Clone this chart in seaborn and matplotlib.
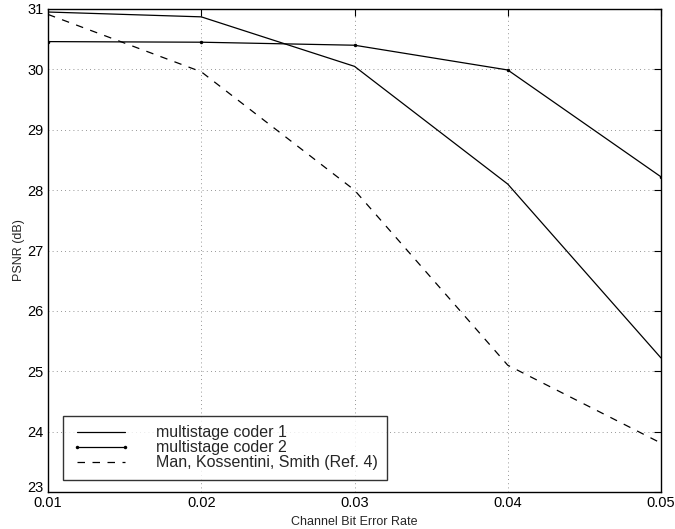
import matplotlib
matplotlib.use("Agg")
import matplotlib.pyplot as plt
import matplotlib.transforms as mtransforms
import seaborn as sns
import pandas as pd

ber = [0.01, 0.02, 0.03, 0.04, 0.05]
coder1 = [30.95, 30.87, 30.05, 28.10, 25.22]
coder2 = [30.46, 30.45, 30.40, 29.99, 28.22]
man = [30.91, 29.96, 28.00, 25.10, 23.81]
labels = ["multistage coder 1", "multistage coder 2", "Man, Kossentini, Smith (Ref. 4)"]
xticks = [0.01, 0.02, 0.03, 0.04, 0.05]
yticks = [23, 24, 25, 26, 27, 28, 29, 30, 31]

sns.set_style("white")
plt.rcParams['font.family'] = ['Liberation Sans', 'DejaVu Sans']
plt.rcParams['font.size'] = 10

fig = plt.figure(figsize=(6.75, 5.29), dpi=100)
ax = fig.add_axes([48/675, 1-492/529, (661-48)/675, (492-9)/529])

sns.lineplot(x=ber, y=coder1, ax=ax, color="black", lw=0.9, label=labels[0])
sns.lineplot(x=ber, y=coder2, ax=ax, color="black", lw=0.9, marker="o", markersize=2.5,
             markeredgewidth=0, label=labels[1])
sns.lineplot(x=ber, y=man, ax=ax, color="black", lw=0.9, linestyle=(0, (6, 6)), label=labels[2])

ax.set_xlim(0.01, 0.05)
ax.set_ylim(23, 31)
ax.set_xticks(xticks)
ax.set_xticklabels([f"{v:.2f}" for v in xticks])
ax.set_yticks(yticks)
ax.grid(True, linestyle=(0, (1, 4)), color="black", lw=0.6, alpha=0.55)
ax.tick_params(direction="in", length=5, width=0.8, top=True, right=True,
               labelsize=10.5, colors="black", pad=3)
for s in ax.spines.values():
    s.set_color("black")
    s.set_linewidth(1.0)
ax.set_xlabel("Channel Bit Error Rate", fontsize=9, labelpad=4)
ax.set_ylabel("PSNR (dB)", fontsize=9, labelpad=2)

# raise the bottom y tick label a little (as in the reference)
fig.canvas.draw()
ylabs = ax.get_yticklabels()
ylabs[0].set_transform(ylabs[0].get_transform() +
                       mtransforms.ScaledTranslation(0, 6/100, fig.dpi_scale_trans))

leg = ax.legend(loc="lower left", bbox_to_anchor=(15/613, 12/483), frameon=True,
                fancybox=False, edgecolor="black", fontsize=11.5, handlelength=3.6,
                handletextpad=1.6, borderpad=0.6, labelspacing=0.0, borderaxespad=0,
                numpoints=2)
leg.get_frame().set_linewidth(1.0)

fig.savefig("out.png", dpi=100)
